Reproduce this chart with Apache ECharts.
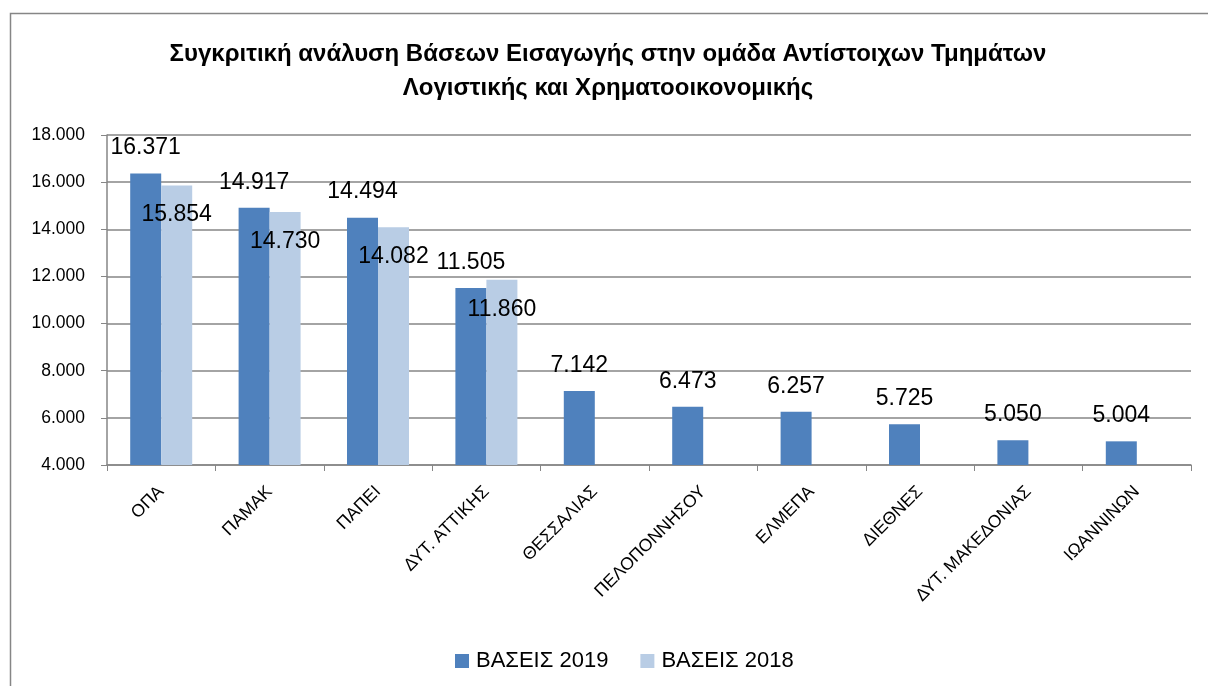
<!DOCTYPE html>
<html>
<head>
<meta charset="utf-8">
<title>Βάσεις Εισαγωγής</title>
<script src="https://cdn.jsdelivr.net/npm/echarts@6/dist/echarts.min.js"></script>
<style>
  html, body { margin: 0; padding: 0; background: #fff; }
  #chart { width: 1208px; height: 686px; }
</style>
</head>
<body>
<div id="chart"></div>
<script>
var categories = ['ΟΠΑ', 'ΠΑΜΑΚ', 'ΠΑΠΕΙ', 'ΔΥΤ. ΑΤΤΙΚΗΣ', 'ΘΕΣΣΑΛΙΑΣ', 'ΠΕΛΟΠΟΝΝΗΣΟΥ', 'ΕΛΜΕΠΑ', 'ΔΙΕΘΝΕΣ', 'ΔΥΤ. ΜΑΚΕΔΟΝΙΑΣ', 'ΙΩΑΝΝΙΝΩΝ'];
var bases2019 = [16371, 14917, 14494, 11505, 7142, 6473, 6257, 5725, 5050, 5004];
var bases2018 = [15854, 14730, 14082, 11860, null, null, null, null, null, null];
var yTicks = { min: 4000, max: 18000, interval: 2000 };

var FONT = '"Liberation Sans", Arial, sans-serif';
var GRAY = '#868686';

// 16371 -> "16.371"
function fmt(v) {
  return String(Math.round(v)).replace(/\B(?=(\d{3})+(?!\d))/g, '.');
}

var chart = echarts.init(document.getElementById('chart'));
chart.setOption({
  backgroundColor: '#fff',
  animation: false,
  textStyle: { fontFamily: FONT },
  graphic: [
    {
      type: 'rect',
      shape: { x: 10.5, y: 13.5, width: 1220, height: 700 },
      style: { fill: 'none', stroke: GRAY, lineWidth: 1.5 },
      silent: true
    }
  ],
  title: {
    text: 'Συγκριτική ανάλυση Βάσεων Εισαγωγής στην ομάδα Αντίστοιχων Τμημάτων\nΛογιστικής και Χρηματοοικονομικής',
    left: 603,
    top: 32,
    textAlign: 'center',
    textStyle: {
      fontFamily: FONT,
      fontWeight: 'bold',
      fontSize: 24,
      lineHeight: 34,
      color: '#000'
    }
  },
  legend: {
    left: 450,
    top: 645,
    itemWidth: 14,
    itemHeight: 14,
    itemGap: 32,
    icon: 'rect',
    textStyle: { fontFamily: FONT, fontSize: 22, color: '#000', padding: [0, 0, 0, 2] },
    data: ['ΒΑΣΕΙΣ 2019', 'ΒΑΣΕΙΣ 2018']
  },
  grid: { left: 107, right: 17, top: 135, bottom: 221 },
  xAxis: {
    type: 'category',
    data: categories,
    axisLine: { lineStyle: { color: GRAY, width: 1.5 } },
    axisTick: { show: true, length: 6, lineStyle: { color: GRAY } },
    axisLabel: {
      rotate: 45,
      interval: 0,
      margin: 24,
      fontFamily: FONT,
      fontSize: 17.5,
      color: '#000'
    }
  },
  yAxis: {
    type: 'value',
    min: yTicks.min,
    max: yTicks.max,
    interval: yTicks.interval,
    axisLine: { show: true, lineStyle: { color: GRAY, width: 1.5 } },
    axisTick: { show: true, length: 6, lineStyle: { color: GRAY } },
    splitLine: { lineStyle: { color: GRAY, width: 1.5 } },
    axisLabel: {
      margin: 22,
      fontFamily: FONT,
      fontSize: 17.5,
      color: '#000',
      formatter: fmt
    }
  },
  series: [
    {
      name: 'ΒΑΣΕΙΣ 2019',
      type: 'bar',
      data: bases2019,
      barWidth: 31,
      barGap: '0%',
      itemStyle: { color: '#4F81BD' },
      label: {
        show: true,
        position: 'top',
        distance: 14,
        fontFamily: FONT,
        fontSize: 23,
        color: '#000',
        formatter: function (p) { return fmt(p.value); }
      }
    },
    {
      name: 'ΒΑΣΕΙΣ 2018',
      type: 'bar',
      data: bases2018,
      barWidth: 31,
      itemStyle: { color: '#B9CDE5' },
      label: {
        show: true,
        position: 'insideTop',
        distance: 18,
        fontFamily: FONT,
        fontSize: 23,
        color: '#000',
        formatter: function (p) { return fmt(p.value); }
      }
    }
  ]
});
</script>
</body>
</html>
